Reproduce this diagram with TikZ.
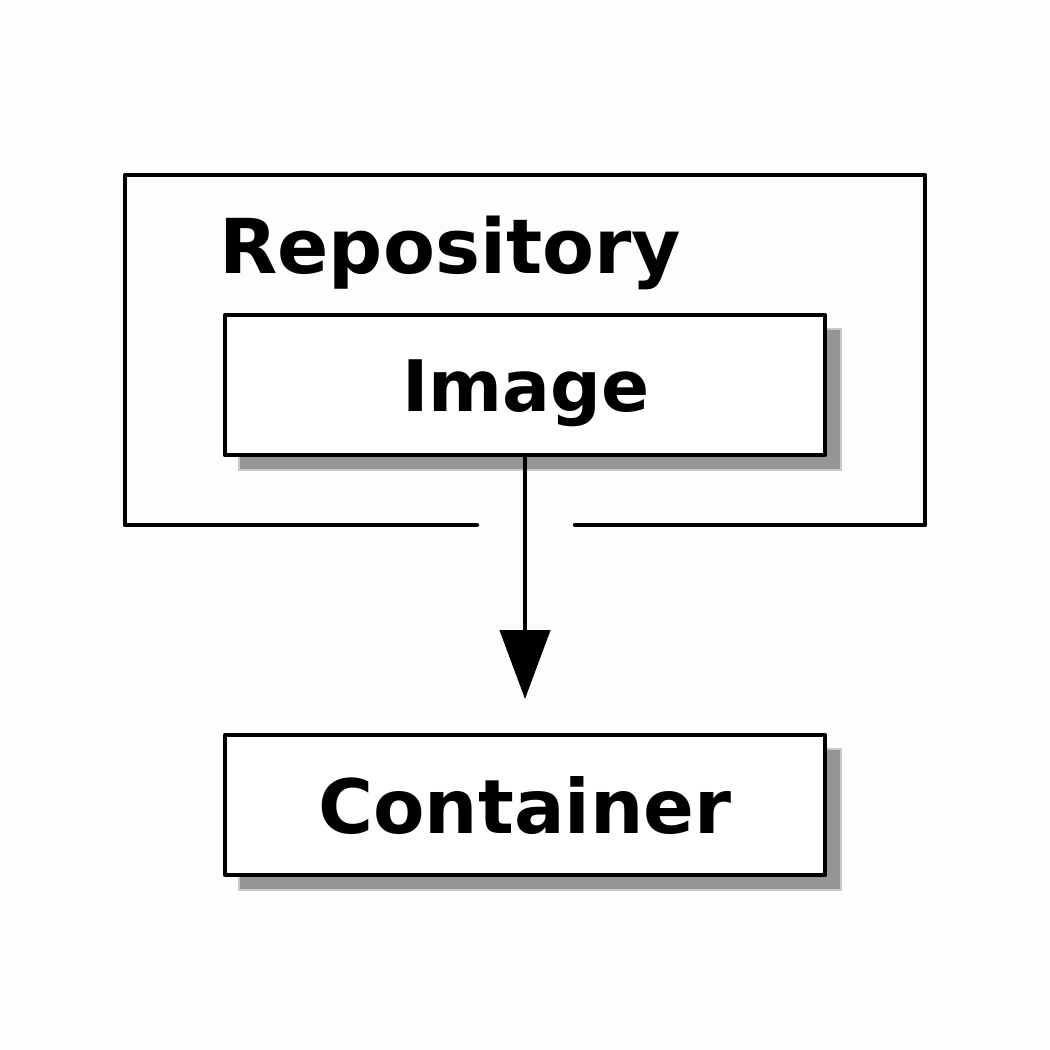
\documentclass[tikz,border=0pt]{standalone}
\usepackage{fontspec}
\setmainfont{DejaVu Sans}
\usetikzlibrary{arrows.meta}
\definecolor{bgc}{HTML}{FDFDFD}
\definecolor{shc}{HTML}{959595}
\definecolor{shl}{HTML}{C8C8C8}
\begin{document}
\begin{tikzpicture}[x=1pt,y=-1pt,
  frame/.style={line width=4.5pt, line cap=round, line join=round},
  boxstyle/.style={draw, fill=white, line width=4.5pt, line join=round, minimum width=600pt, minimum height=140pt, inner sep=0pt},
  lbl/.style={font=\bfseries, inner sep=0pt}]
\path[fill=bgc] (0,0) rectangle (1050,1050);
\useasboundingbox (0,0) rectangle (1050,1050);
% shadows
\foreach \y in {315,735}{
  \fill[shl] (238,\y+13) rectangle (842,\y+156);
  \fill[shc] (240,\y+15) rectangle (840,\y+154);
}
% repository frame
\coordinate (gl) at (477,525);
\coordinate (gr) at (575,525);
\draw[frame] (gl) -- (125,525) -- (125,175) -- (925,175) -- (925,525) -- (gr);
\node[lbl, anchor=base west, font=\fontsize{75.7}{80}\selectfont\bfseries] (repo) at (219,273) {Repository};
\node[boxstyle] (img) at (525,385) {};
\node[lbl, anchor=base, font=\fontsize{71}{74}\selectfont\bfseries] (imgt) at (526,411) {Image};
\node[boxstyle] (cont) at (525,805) {};
\node[lbl, anchor=base, font=\fontsize{75}{80}\selectfont\bfseries] (contt) at (525,833) {Container};
\coordinate (tip) at (525,699);
\draw[line width=4.5pt, -{Triangle[width=50pt,length=69pt]}] (img.south) -- (tip);
\end{tikzpicture}
\end{document}
